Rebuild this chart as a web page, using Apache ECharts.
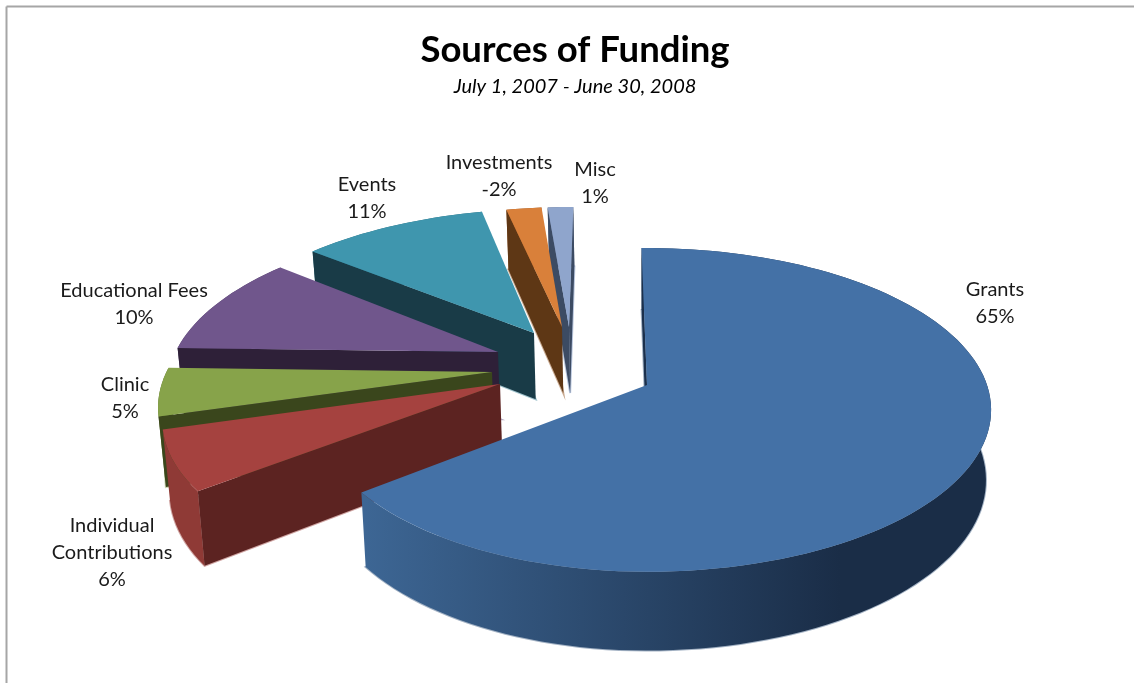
<!DOCTYPE html>
<html><head><meta charset="utf-8">
<style>html,body{margin:0;padding:0;background:#fff}#c{width:1134px;height:683px}</style>
<script src="https://cdn.jsdelivr.net/npm/echarts@6/dist/echarts.min.js"></script>
</head><body><div id="c"></div>
<script>
// ---- data ----
const categories = ['Grants','Individual\nContributions','Clinic','Educational Fees','Events','Investments','Misc'];
const values = [64.75, 6.1, 4.9, 10.3, 10.5, -2.0, 1.45];
const chartTitle = 'Sources of Funding';
const chartSubtitle = 'July 1, 2007 - June 30, 2008';

// ---- styling / layout ----
const topColors  = ['#4471a6','#a5423f','#87a34a','#70568c','#3f96ae','#d9803a','#8fa5cc'];
const faceColors = ['#1b304c','#5c2321','#3a461c','#2e2038','#193b47','#5e3715','#3c4b63'];
const rimColors  = ['#2f5280','#8f3a36','#5f7434','#4f3d63','#2c6a7b','#98592a','#64738f'];
const fringe     = ['#a3b2c4','#d0a5a3','#ccd6b4','#b8adc6','#9fc2cc','#c9aa90','#b9c6dd'];
const paintOrder = [6,5,4,3,2,1,0];   // z per slice: grants on top, misc at the back
const apexes = [[647,385],[500,384],[492,372],[498,352],[534,333],[562,327],[569,327]];
const rimScaleX = [0.965,0.97,0.97,0.98,1,1,1];   // squeeze of the left side of each rim
const rimScaleY = [1,1,1,1,1,0.975,0.975];        // squeeze of the far side of each rim
const labelAt = [[995,303],[112,553],[125,398],[134,304],[367,198],[499,176],[595,183]];
const startDeg = -1.1, CX = 647, CY = 385, RX = 340, RY = 158, P = 0.154, H = 69, K = 0.985;

function project(u, v) { const w = 1/(1-P*v); return [CX+RX*u*w, CY+RY*v*w, w]; }
function unproject(x, y) {
  const dy = y-CY, v = dy/(RY+P*dy), w = 1/(1-P*v);
  return [(x-CX)/(RX*w), v];
}
function lower(pt) { return [CX+(pt[0]-CX)*K, CY+(pt[1]-CY)*K+H*pt[2]]; }

const total = values.reduce((s,v)=>s+Math.abs(v),0);
function faceVisible(a, p, inner) {
  const ex = p[0]-a[0], ey = p[1]-a[1];
  const c = ex*(inner[1]-a[1]) - ey*(inner[0]-a[0]);
  return ex*c < 0;
}
function renderSlice(params, api) {
  const i = params.dataIndex;
  let a0 = startDeg;
  for (let k=0;k<i;k++) a0 += Math.abs(values[k])/total*360;
  const a1 = a0 + Math.abs(api.value(0))/total*360;
  const ctr = unproject(apexes[i][0], apexes[i][1]);
  const apex = project(ctr[0], ctr[1]);
  const steps = Math.max(4, Math.ceil((a1-a0)/2));
  const rim = [];
  for (let s=0;s<=steps;s++) {
    const t = (a0+(a1-a0)*s/steps)*Math.PI/180;
    const du = Math.sin(t), dv = -Math.cos(t);
    rim.push(project(ctr[0]+du*(du<0?rimScaleX[i]:1), ctr[1]+dv*(dv<0?rimScaleY[i]:1)));
  }
  const rimLow = rim.map(lower), apexLow = lower(apex);
  const xy = p => [p[0],p[1]];
  const top = [xy(apex)].concat(rim.map(xy));
  const bottom = [apexLow].concat(rimLow);
  const wall = rim.map(xy).concat(rimLow.slice().reverse());
  const first = [xy(apex), xy(rim[0]), rimLow[0], apexLow];
  const last  = [xy(apex), xy(rim[steps]), rimLow[steps], apexLow];
  const mid = rim[Math.floor(steps/2)];
  const wallFill = i===0
    ? new echarts.graphic.LinearGradient(365,0,840,0,[{offset:0,color:'#3d6694'},{offset:1,color:'#1a2d47'}],true)
    : rimColors[i];
  const z = paintOrder[i]*10;
  const children = [
    {type:'polygon', z2:z,   shape:{points:bottom}, style:{fill:fringe[i], stroke:fringe[i], lineWidth:2}},
    {type:'polygon', z2:z+1, shape:{points:wall},   style:{fill:wallFill}}
  ];
  if (faceVisible(apex, rim[0], mid))
    children.push({type:'polygon', z2:z+2, shape:{points:first}, style:{fill:faceColors[i]}});
  if (faceVisible(apex, rim[steps], mid))
    children.push({type:'polygon', z2:z+2, shape:{points:last}, style:{fill:faceColors[i]}});
  children.push({type:'polygon', z2:z+3, shape:{points:top}, style:{fill:topColors[i]}});
  children.push({type:'text', z2:200, style:{
    text: categories[i]+'\n'+Math.round(api.value(0))+'%',
    x: labelAt[i][0], y: labelAt[i][1], align:'center', verticalAlign:'middle',
    fill:'#1a1a1a', font:'20px Lato', lineHeight:27
  }});
  return {type:'group', children};
}

const chart = echarts.init(document.getElementById('c'), null, {renderer:'canvas'});
chart.setOption({
  animation:false,
  backgroundColor:'#ffffff',
  title:[
    {text:chartTitle, left:570, top:45, textAlign:'center', textVerticalAlign:'middle',
     textStyle:{fontFamily:'Lato', fontWeight:'bold', fontSize:36.5, color:'#000'}},
    {text:chartSubtitle, left:570, top:82, textAlign:'center', textVerticalAlign:'middle',
     textStyle:{fontFamily:'Lato', fontStyle:'italic', fontWeight:'normal', fontSize:20, color:'#000'}}
  ],
  graphic:[
    {type:'line', shape:{x1:6.5,y1:6.5,x2:1134,y2:6.5}, style:{stroke:'#a6a6a6',lineWidth:2}},
    {type:'line', shape:{x1:6.5,y1:6.5,x2:6.5,y2:683}, style:{stroke:'#a6a6a6',lineWidth:2}}
  ],
  series:[{
    type:'custom', coordinateSystem:'none', renderItem:renderSlice,
    data: values.map((v,i)=>({name:categories[i], value:[v]})), silent:true
  }]
});
</script></body></html>
